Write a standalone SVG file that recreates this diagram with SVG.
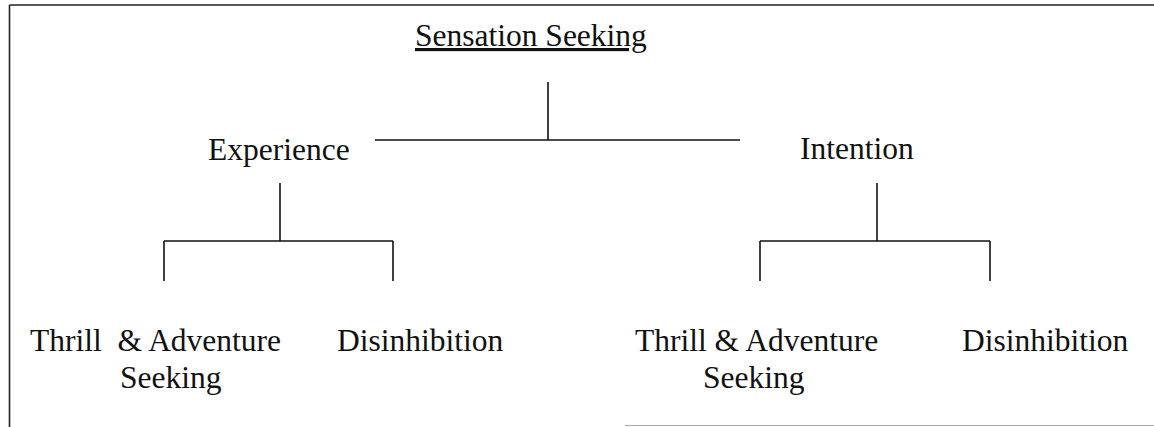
<svg xmlns="http://www.w3.org/2000/svg" width="1154" height="427" viewBox="0 0 1154 427">
<style>
text{font-family:"Liberation Serif","Times New Roman",serif;font-size:31.5px;fill:#111}
.c line{stroke:#111;stroke-width:1.6}
.frame{stroke:#222;stroke-width:1.6}
</style>
<rect width="1154" height="427" fill="#fff"/>
<line class="frame" x1="9.5" y1="5" x2="1154" y2="5"/>
<line class="frame" x1="9.5" y1="5" x2="9.5" y2="427"/>
<line x1="625" y1="425.5" x2="1154" y2="425.5" stroke="#aaa" stroke-width="1"/>
<g class="c" id="connectors">
<line x1="548" y1="82" x2="548" y2="140"/>
<line x1="375" y1="140" x2="740" y2="140"/>
<line x1="280" y1="183" x2="280" y2="241"/>
<line x1="164" y1="241" x2="393" y2="241"/>
<line x1="164" y1="241" x2="164" y2="281"/>
<line x1="393" y1="241" x2="393" y2="281"/>
<line x1="877" y1="183" x2="877" y2="241"/>
<line x1="760" y1="241" x2="990" y2="241"/>
<line x1="760" y1="241" x2="760" y2="281"/>
<line x1="990" y1="241" x2="990" y2="281"/>
</g>
<g id="sensation"><text x="415" y="46" text-decoration="underline">Sensation Seeking</text></g>
<g id="experience"><text x="208" y="160">Experience</text></g>
<g id="intention"><text x="800" y="159">Intention</text></g>
<g id="exp-thrill"><text x="30" y="351" xml:space="preserve">Thrill  &amp; Adventure</text><text x="120" y="388">Seeking</text></g>
<g id="exp-disinhibition"><text x="337" y="351">Disinhibition</text></g>
<g id="int-thrill"><text x="635" y="351">Thrill &amp; Adventure</text><text x="703" y="388">Seeking</text></g>
<g id="int-disinhibition"><text x="962" y="351">Disinhibition</text></g>
</svg>
